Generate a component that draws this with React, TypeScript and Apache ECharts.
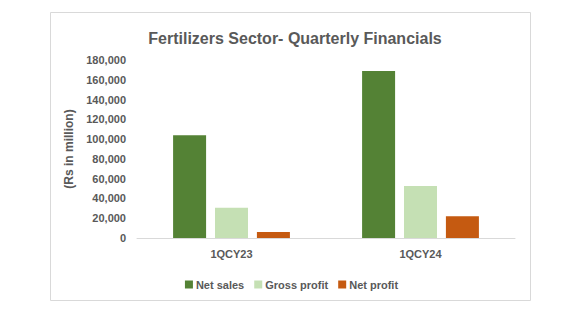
import React, { useEffect, useRef } from "react";
import * as echarts from "echarts";

const categories = ["1QCY23", "1QCY24"];
const netSales = [104000, 169000];
const grossProfit = [30500, 52500];
const netProfit = [6000, 22000];

export default function App() {
  const ref = useRef<HTMLDivElement>(null);
  useEffect(() => {
    const chart = echarts.init(ref.current!, null, { renderer: "svg" });
    const font = "'Liberation Sans', Arial, sans-serif";
    const grey = "#595959";
    chart.setOption({
      animation: false,
      backgroundColor: "#ffffff",
      title: {
        text: "Fertilizers Sector- Quarterly Financials",
        left: 290,
        top: 25,
        textAlign: "center",
        textStyle: { fontFamily: font, fontSize: 16, fontWeight: "bold", color: grey },
      },
      graphic: [
        {
          type: "rect",
          shape: { x: 50.5, y: 12.5, width: 480, height: 288 },
          style: { fill: "none", stroke: "#d9d9d9", lineWidth: 1 },
          silent: true,
        },
      ],
      legend: {
        top: 274,
        left: "center",
        itemWidth: 8,
        itemHeight: 8,
        itemGap: 10,
        icon: "rect",
        textStyle: { fontFamily: font, fontSize: 11, fontWeight: "bold", color: grey, padding: [0, 0, 0, -2] },
        data: ["Net sales", "Gross profit", "Net profit"],
      },
      grid: { left: 137, right: 68, top: 60, bottom: 85, containLabel: false },
      xAxis: {
        type: "category",
        data: categories,
        axisLine: { lineStyle: { color: "#d9d9d9" } },
        axisTick: { show: false },
        axisLabel: { fontFamily: font, fontSize: 11, fontWeight: "bold", color: grey, margin: 10 },
      },
      yAxis: {
        type: "value",
        min: 0,
        max: 180000,
        interval: 20000,
        name: "(Rs in million)",
        nameLocation: "middle",
        nameGap: 52,
        nameRotate: 90,
        nameTextStyle: { fontFamily: font, fontSize: 12, fontWeight: "bold", color: grey },
        axisLine: { show: false },
        axisTick: { show: false },
        splitLine: { show: false },
        axisLabel: {
          fontFamily: font,
          fontSize: 11,
          fontWeight: "bold",
          color: grey,
          margin: 11,
          formatter: (v: number) => v.toLocaleString("en-US"),
        },
      },
      series: [
        { name: "Net sales", type: "bar", data: netSales, barWidth: 33, barGap: "27%", itemStyle: { color: "#548235" } },
        { name: "Gross profit", type: "bar", data: grossProfit, barWidth: 33, barGap: "27%", itemStyle: { color: "#C5E0B4" } },
        { name: "Net profit", type: "bar", data: netProfit, barWidth: 33, barGap: "27%", itemStyle: { color: "#C55A11" } },
      ],
    });
    return () => chart.dispose();
  }, []);
  return <div ref={ref} style={{ position: "fixed", left: 0, top: 0, width: 583, height: 323 }} />;
}
